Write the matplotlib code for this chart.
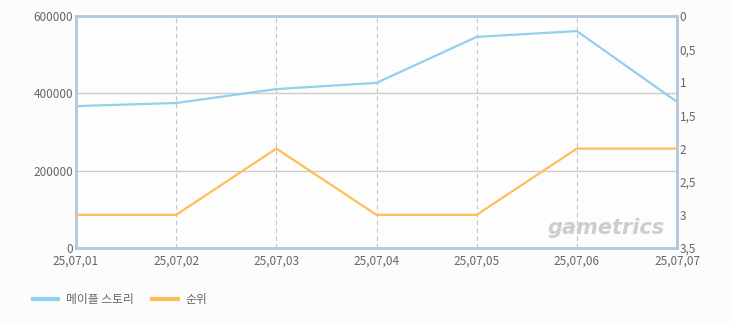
import matplotlib.pyplot as plt
from matplotlib.lines import Line2D

plt.rcParams['font.family'] = ['Noto Sans CJK KR', 'DejaVu Sans']

dates = ['25,07,01', '25,07,02', '25,07,03', '25,07,04', '25,07,05', '25,07,06', '25,07,07']
users = [367000, 375000, 411000, 427000, 546000, 561000, 378000]
rank = [3, 3, 2, 3, 3, 2, 2]

blue = '#92d0f0'
orange = '#ffbe5a'
frame = '#b4c8dc'
txt = '#666666'

fig = plt.figure(figsize=(7.3, 3.25), dpi=100, facecolor='#fcfcfc')
ax = fig.add_axes([76/730, 77/325, 601/730, 232/325])
ax.set_facecolor('#fdfdfd')
x = list(range(len(dates)))

ax.plot(x, users, color=blue, lw=1.6, zorder=3)
ax.set_xlim(0, len(dates) - 1)
ax.set_ylim(0, 600000)
ax.set_yticks([0, 200000, 400000, 600000])
ax.set_yticklabels(['0', '200000', '400000', '600000'])
ax.set_xticks(x)
ax.set_xticklabels(dates)
ax.grid(axis='y', color='#cccccc', lw=1)
ax.grid(axis='x', color='#c4c4c4', lw=0.8, ls=(0, (4, 3)))
ax.set_axisbelow(True)

ax2 = ax.twinx()
ax2.plot(x, rank, color=orange, lw=1.6, zorder=3)
ax2.set_ylim(3.5, 0)
ax2.set_yticks([0, 0.5, 1, 1.5, 2, 2.5, 3, 3.5])
ax2.set_yticklabels(['0', '0,5', '1', '1,5', '2', '2,5', '3', '3,5'])

for a in (ax, ax2):
    for s in a.spines.values():
        s.set_color(frame)
        s.set_linewidth(1.8)
    a.tick_params(length=0, colors=txt, labelsize=8.5, pad=2)
ax.tick_params(axis='x', pad=5)

ax.text(0.98, 0.085, 'gametrics', transform=ax.transAxes, ha='right', va='center',
        fontsize=15, fontweight='bold', style='italic', color='#cdcdcd', family='DejaVu Sans')

handles = [Line2D([], [], color=blue, lw=3), Line2D([], [], color=orange, lw=3)]
fig.legend(handles, ['메이플 스토리', '순위'], loc='center left', bbox_to_anchor=(0.03, 0.077),
           ncol=2, frameon=False, fontsize=8.5, labelcolor=txt, handlelength=2.2,
           handletextpad=0.6, columnspacing=1.6)

fig.savefig('out.png', dpi=100, facecolor=fig.get_facecolor())
